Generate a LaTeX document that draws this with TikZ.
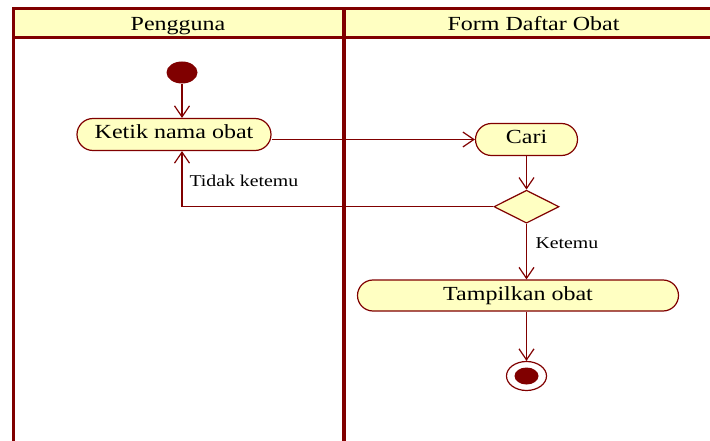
\documentclass[tikz,border=0pt]{standalone}
\usepackage{fontspec}
\setmainfont{Liberation Serif}[FakeStretch=1.2]
\usepackage{tikz}
\usetikzlibrary{arrows.meta}
\usetikzlibrary{shapes.misc,shapes.geometric}
\definecolor{lanered}{RGB}{128,0,0}
\definecolor{actfill}{RGB}{255,255,194}
\tikzset{actionbox/.style={draw=lanered, fill=actfill, line width=1.2pt,
    rounded rectangle, inner sep=0pt, text height=13pt, text depth=4pt,
    font=\fontsize{20}{24}\selectfont}}
\tikzset{flowarrow/.style={draw=lanered, line width=1.2pt,
    -{Straight Barb[length=11pt,width=15pt,line width=1.2pt]}}}

\begin{document}
\begin{tikzpicture} [x=1pt, y=-1pt,
      decision/.style={draw=lanered, fill=actfill, line width=1.2pt, diamond,
        inner sep=0pt, minimum width=65pt, minimum height=33pt},
      startnode/.style={ellipse, fill=lanered, inner sep=0pt,
        minimum width=31pt, minimum height=22pt},
      endouter/.style={ellipse, draw=lanered, fill=white, line width=1.2pt,
        inner sep=0pt, minimum width=40pt, minimum height=29pt},
      endinner/.style={ellipse, fill=lanered, inner sep=0pt,
        minimum width=24pt, minimum height=17pt},
      guard/.style={anchor=west, font=\fontsize{16.5}{20}\selectfont}]
      \useasboundingbox (0,0) rectangle (710,441);
      \clip (0,0) rectangle (710,441);

      % swimlanes
      \fill[actfill] (13,9) rectangle (720,37.3);
      \draw[lanered, line width=3pt] (13,9) -- (720,9);
      \draw[lanered, line width=2.5pt] (13,37.3) -- (720,37.3);
      \draw[lanered, line width=3pt] (13,7.5) -- (13,450);
      \draw[lanered, line width=4.5pt] (344,7.5) -- (344,450);
      \node[anchor=base, font=\fontsize{20}{24}\selectfont] (lanea) at (178,30.7) {Pengguna};
      \node[anchor=base, font=\fontsize{20}{24}\selectfont] (laneb) at (533.5,30.7) {Form Daftar Obat};

      \node[startnode] (start) at (182,72.5) {};
      \node[actionbox, minimum width=194pt, minimum height=32pt] (ketik) at (174,134.5) {Ketik nama obat};
      \node[actionbox, minimum width=102pt, minimum height=32pt] (cari) at (526.5,139.5) {Cari};
      \node[decision] (cek) at (526.5,206.7) {};
      \node[actionbox, minimum width=321pt, minimum height=31pt] (tampil) at (518,295.5) {Tampilkan obat};
      \node[endouter] (fin) at (526.5,376) {};
      \node[endinner] (finin) at (fin) {};

      \draw[flowarrow] (start.south) -- (start.south |- ketik.north);
      \draw[flowarrow] (cari.west -| ketik.east) -- (cari.west);
      \draw[flowarrow] (cari.south) -- (cek.north);
      \draw[flowarrow] (cek.west) -| (start |- ketik.south);
      \draw[flowarrow] (cek.south) -- (cek.south |- tampil.north);
      \draw[flowarrow] (fin |- tampil.south) -- (fin.north);
      \node[guard] (tidak) at (186,180.5) {Tidak ketemu};
      \node[guard] (ketemu) at (532,243) {Ketemu};
    \end{tikzpicture}
\end{document}
